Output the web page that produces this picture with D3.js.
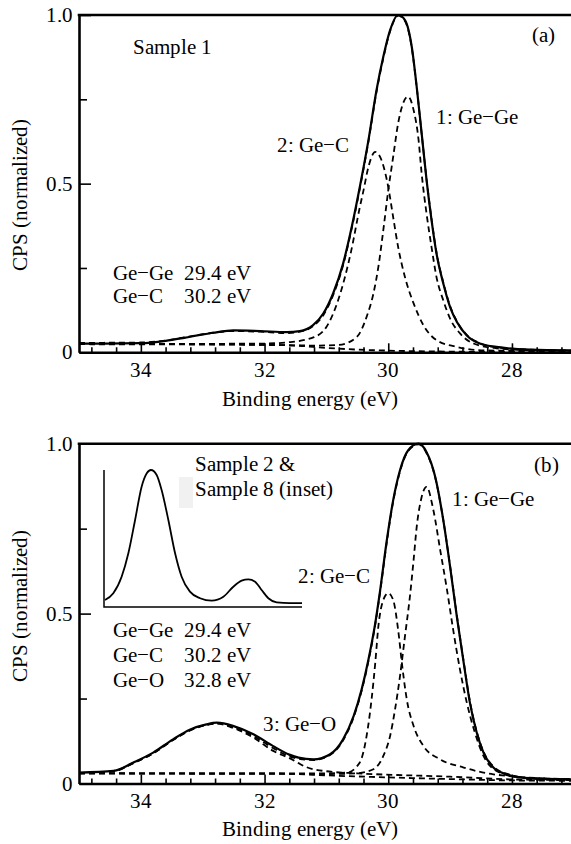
<!DOCTYPE html>
<html><head><meta charset="utf-8">
<script src="https://cdn.jsdelivr.net/npm/d3@7"></script>
<style>
@font-face { font-family: "ChartSerif"; src: local("Liberation Serif"), local("LiberationSerif"), local("LiberationSerif-Regular"), local("Times New Roman"); }
body { margin: 0; font-family: "ChartSerif", "Liberation Serif", "Times New Roman", Tinos, serif; }
.t { font-family: "ChartSerif", "Liberation Serif", "Times New Roman", Tinos, serif !important; }
</style>
</head><body>
<script>
// ---------- axis ticks ----------
const energyDomain = [35, 27];
const energyMajorTicks = [34, 32, 30, 28];
const energyMinorTicks = [34.8, 34.4, 33.6, 33.2, 32.8, 32.4, 31.6, 31.2, 30.8, 30.4, 29.6, 29.2, 28.8, 28.4, 27.6, 27.2];
const cpsMajorTicks = [0, 0.5, 1.0];
const cpsMinorTicks = [0.25, 0.75];
const cpsTickLabels = ["0", "0.5", "1.0"];

// ---------- panel (a): Sample 1 ----------
const aMeasured = [[35.0,0.026],[34.6,0.026],[34.0,0.027],[33.6,0.034],[33.3,0.043],[33.0,0.053],[32.83,0.058],[32.5,0.065],[32.07,0.063],[31.64,0.060],[31.43,0.063],[31.22,0.080],[31.05,0.115],[30.89,0.175],[30.73,0.263],[30.59,0.372],[30.46,0.49],[30.32,0.629],[30.19,0.777],[30.08,0.876],[29.97,0.955],[29.84,1.0],[29.73,0.985],[29.62,0.906],[29.54,0.787],[29.46,0.649],[29.38,0.51],[29.30,0.392],[29.22,0.293],[29.11,0.204],[29.0,0.134],[28.89,0.09],[28.73,0.05],[28.52,0.026],[28.25,0.016],[27.71,0.008],[27.0,0.006]];
const aFit = [[35.0,0.028],[34.0,0.029],[33.6,0.035],[33.3,0.044],[33.0,0.053],[32.83,0.058],[32.5,0.063],[32.07,0.061],[31.64,0.057],[31.43,0.061],[31.22,0.077],[31.05,0.11],[30.89,0.17],[30.73,0.258],[30.59,0.368],[30.46,0.485],[30.32,0.625],[30.19,0.772],[30.08,0.872],[29.97,0.952],[29.84,0.998],[29.73,0.982],[29.62,0.903],[29.54,0.786],[29.46,0.648],[29.38,0.512],[29.30,0.395],[29.22,0.296],[29.11,0.207],[29.0,0.137],[28.89,0.092],[28.73,0.052],[28.52,0.027],[28.25,0.015],[27.71,0.008],[27.0,0.005]];
const aGeGe = [[35.0,0.024],[32.0,0.022],[31.2,0.02],[30.8,0.022],[30.51,0.045],[30.35,0.105],[30.24,0.174],[30.16,0.253],[30.08,0.362],[30.0,0.48],[29.92,0.58],[29.84,0.679],[29.76,0.738],[29.68,0.758],[29.59,0.718],[29.51,0.63],[29.46,0.53],[29.38,0.41],[29.30,0.312],[29.22,0.223],[29.11,0.154],[29.0,0.10],[28.84,0.056],[28.62,0.026],[28.25,0.012],[27.71,0.006],[27.0,0.004]];
const aGeC = [[35.0,0.024],[32.0,0.026],[31.6,0.03],[31.2,0.045],[31.0,0.075],[30.8,0.16],[30.6,0.30],[30.46,0.43],[30.40,0.48],[30.32,0.55],[30.21,0.594],[30.11,0.57],[30.0,0.49],[29.92,0.40],[29.84,0.312],[29.73,0.223],[29.59,0.145],[29.43,0.08],[29.22,0.036],[28.89,0.016],[28.5,0.006],[27.0,0.003]];
const aBackground = [[35.0,0.024],[33.0,0.024],[32.0,0.022],[31.5,0.02],[31.0,0.013],[30.5,0.008],[30.0,0.005],[29.0,0.002],[28.0,0.001],[27.0,0.0]];

// ---------- panel (b): Sample 2 ----------
const bMeasured = [[35.0,0.032],[34.44,0.037],[34.12,0.062],[33.80,0.091],[33.48,0.13],[33.2,0.159],[32.94,0.174],[32.77,0.179],[32.5,0.169],[32.18,0.145],[31.86,0.11],[31.6,0.085],[31.45,0.076],[31.21,0.071],[30.94,0.086],[30.73,0.13],[30.56,0.198],[30.43,0.277],[30.32,0.365],[30.21,0.472],[30.13,0.57],[30.03,0.707],[29.92,0.834],[29.81,0.922],[29.68,0.98],[29.51,1.0],[29.38,0.975],[29.24,0.902],[29.11,0.775],[29.0,0.638],[28.89,0.49],[28.78,0.355],[28.68,0.238],[28.57,0.15],[28.46,0.091],[28.30,0.047],[28.09,0.027],[27.71,0.015],[27.0,0.011]];
const bFit = [[35.0,0.031],[34.44,0.036],[34.12,0.06],[33.80,0.089],[33.48,0.128],[33.2,0.157],[32.94,0.173],[32.77,0.177],[32.5,0.166],[32.18,0.14],[31.86,0.104],[31.6,0.08],[31.45,0.073],[31.21,0.069],[30.94,0.084],[30.73,0.127],[30.56,0.195],[30.43,0.273],[30.32,0.36],[30.21,0.468],[30.13,0.565],[30.03,0.702],[29.92,0.83],[29.81,0.918],[29.68,0.978],[29.51,0.998],[29.38,0.972],[29.24,0.9],[29.11,0.775],[29.0,0.64],[28.89,0.493],[28.78,0.358],[28.68,0.242],[28.57,0.153],[28.46,0.094],[28.30,0.05],[28.09,0.029],[27.71,0.016],[27.0,0.012]];
const bGeGe = [[35.0,0.03],[31.0,0.028],[30.51,0.03],[30.24,0.042],[30.08,0.081],[29.97,0.14],[29.89,0.218],[29.81,0.316],[29.73,0.433],[29.65,0.55],[29.59,0.658],[29.54,0.755],[29.46,0.843],[29.38,0.873],[29.27,0.804],[29.16,0.687],[29.05,0.57],[28.95,0.452],[28.84,0.335],[28.73,0.238],[28.60,0.15],[28.46,0.081],[28.25,0.037],[27.87,0.018],[27.0,0.013]];
const bGeC = [[35.0,0.03],[31.0,0.03],[30.67,0.032],[30.46,0.062],[30.35,0.14],[30.27,0.247],[30.21,0.355],[30.16,0.462],[30.08,0.54],[30.0,0.56],[29.92,0.54],[29.84,0.452],[29.78,0.355],[29.70,0.247],[29.59,0.169],[29.43,0.11],[29.16,0.071],[28.78,0.047],[28.30,0.027],[27.0,0.012]];
const bGeO = [[35.0,0.03],[34.44,0.037],[34.12,0.06],[33.80,0.089],[33.48,0.128],[33.2,0.157],[32.94,0.172],[32.77,0.176],[32.5,0.163],[32.18,0.135],[31.86,0.096],[31.59,0.074],[31.32,0.048],[31.0,0.036],[30.5,0.03],[29.0,0.02],[28.0,0.012],[27.0,0.01]];
const bBackground = [[35.0,0.03],[32.0,0.03],[31.5,0.028],[31.0,0.024],[30.0,0.018],[29.0,0.013],[28.0,0.009],[27.0,0.008]];

// ---------- inset: Sample 8 (arbitrary units) ----------
const insetX = [0.05,0.47,0.89,1.23,1.57,1.90,2.16,2.37,2.66,2.91,3.25,3.59,3.92,4.34,4.85,5.44,6.03,6.53,6.95,7.29,7.63,7.96,8.30,8.72,9.39,10.0];
const insetY = [0.051,0.10,0.221,0.392,0.635,0.878,0.976,1.0,0.964,0.854,0.635,0.392,0.221,0.112,0.064,0.046,0.075,0.148,0.192,0.202,0.185,0.124,0.064,0.034,0.029,0.029];

// ---------- drawing ----------
const W = 571, H = 844;
const svg = d3.select("body").append("svg").attr("width", W).attr("height", H);
const x = d3.scaleLinear().domain(energyDomain).range([79, 79 + 8 * 61.85]);
const fmtCps = d => cpsTickLabels[cpsMajorTicks.indexOf(d)];
const texts = [];   // [x, y, string, anchor, rotate]

function drawPanel(p) {
  const y = d3.scaleLinear().domain([0, 1]).range([p.bottom, p.top]);
  const g = svg.append("g");
  const line = d3.line().x(d => x(d[0])).y(d => y(d[1])).curve(d3.curveMonotoneX);

  p.dashed.forEach(s => {
    g.append("path").attr("d", line(s)).attr("fill", "none")
      .attr("stroke", "#000").attr("stroke-width", 1.8).attr("stroke-dasharray", "6,4");
  });
  g.append("path").attr("d", line(p.solid)).attr("fill", "none")
    .attr("stroke", "#000").attr("stroke-width", 2.2);

  const xMinor = g.append("g").attr("transform", `translate(0,${p.bottom})`)
    .call(d3.axisBottom(x).tickValues(energyMinorTicks).tickSize(-5).tickSizeOuter(0).tickFormat(""));
  xMinor.select(".domain").remove();
  xMinor.selectAll("line").attr("stroke-width", 1.6);
  const xMaj = g.append("g").attr("transform", `translate(0,${p.bottom})`)
    .call(d3.axisBottom(x).tickValues(energyMajorTicks).tickSize(-9).tickSizeOuter(0).tickFormat(""));
  xMaj.select(".domain").attr("stroke-width", 2.6);
  xMaj.selectAll("line").attr("stroke-width", 1.6);
  energyMajorTicks.forEach(t => texts.push([x(t), p.bottom + 24.5, d3.format("d")(t), "middle"]));

  const yMinor = g.append("g").attr("transform", `translate(${x(35)},0)`)
    .call(d3.axisLeft(y).tickValues(cpsMinorTicks).tickSize(-8).tickSizeOuter(0).tickFormat(""));
  yMinor.select(".domain").remove();
  yMinor.selectAll("line").attr("stroke-width", 1.6);
  const yMaj = g.append("g").attr("transform", `translate(${x(35)},0)`)
    .call(d3.axisLeft(y).tickValues(cpsMajorTicks).tickSize(-12).tickSizeOuter(0).tickFormat(""));
  yMaj.select(".domain").attr("stroke-width", 2.6);
  yMaj.selectAll("line").attr("stroke-width", 1.6);
  cpsMajorTicks.forEach(t => texts.push([x(35) - 6.5, y(t) + 7, fmtCps(t), "end"]));

  g.append("line").attr("x1", x(35) - 1.3).attr("x2", W).attr("y1", y(1)).attr("y2", y(1))
    .attr("stroke", "#000").attr("stroke-width", 2.6);

  texts.push([309.5, p.xTitleY, "Binding energy (eV)", "middle"]);
  texts.push([27, p.yTitleMid, "CPS (normalized)", "middle", true]);
  p.labels.forEach(l => texts.push([l[0], l[1], l[2], "start"]));
  return {g, y};
}

drawPanel({
  top: 15, bottom: 352.3, xTitleY: 406, yTitleMid: 195,
  solid: aMeasured, dashed: [aBackground, aGeC, aGeGe, aFit],
  labels: [
    [133, 54, "Sample 1"], [532, 42, "(a)"], [277, 152, "2: Ge\u2212C"], [436, 124, "1: Ge\u2212Ge"],
    [113, 280, "Ge\u2212Ge"], [184, 280, "29.4 eV"], [113, 303, "Ge\u2212C"], [184, 303, "30.2 eV"]
  ]
});

const pb = drawPanel({
  top: 443.7, bottom: 783.5, xTitleY: 836, yTitleMid: 605.5,
  solid: bMeasured, dashed: [bBackground, bGeO, bGeC, bGeGe, bFit],
  labels: [
    [534, 472, "(b)"], [195, 471, "Sample 2 &"], [195, 496, "Sample 8 (inset)"],
    [452, 506, "1: Ge\u2212Ge"], [298, 583, "2: Ge\u2212C"], [263, 731, "3: Ge\u2212O"],
    [113, 637, "Ge\u2212Ge"], [184, 637, "29.4 eV"], [113, 661.5, "Ge\u2212C"], [184, 661.5, "30.2 eV"],
    [113, 686.5, "Ge\u2212O"], [184, 686.5, "32.8 eV"]
  ]
});

pb.g.append("rect").attr("x", 179).attr("y", 477).attr("width", 14).attr("height", 31).attr("fill", "#f1f1f1").lower();

const ix = d3.scaleLinear().domain([0, 10]).range([104, 302]);
const iy = d3.scaleLinear().domain([0, 1]).range([607, 470]);
const ig = svg.append("g");
ig.append("path").attr("d", `M${ix(0)},${iy(1)}V${iy(0)}H${ix(10)}`).attr("fill", "none")
  .attr("stroke", "#000").attr("stroke-width", 1.5);
ig.append("path")
  .attr("d", d3.line().x((d, i) => ix(insetX[i])).y(d => iy(d)).curve(d3.curveMonotoneX)(insetY))
  .attr("fill", "none").attr("stroke", "#000").attr("stroke-width", 1.8);

texts.forEach(t => {
  const el = svg.append("text").attr("class", "t").attr("font-size", 20.5)
    .attr("font-family", "Liberation Serif")
    .attr("text-anchor", t[3]);
  if (t[4]) el.attr("transform", `translate(${t[0]},${t[1]}) rotate(-90)`);
  else el.attr("x", t[0]).attr("y", t[1]);
  el.text(t[2]);
});
</script>
</body></html>
